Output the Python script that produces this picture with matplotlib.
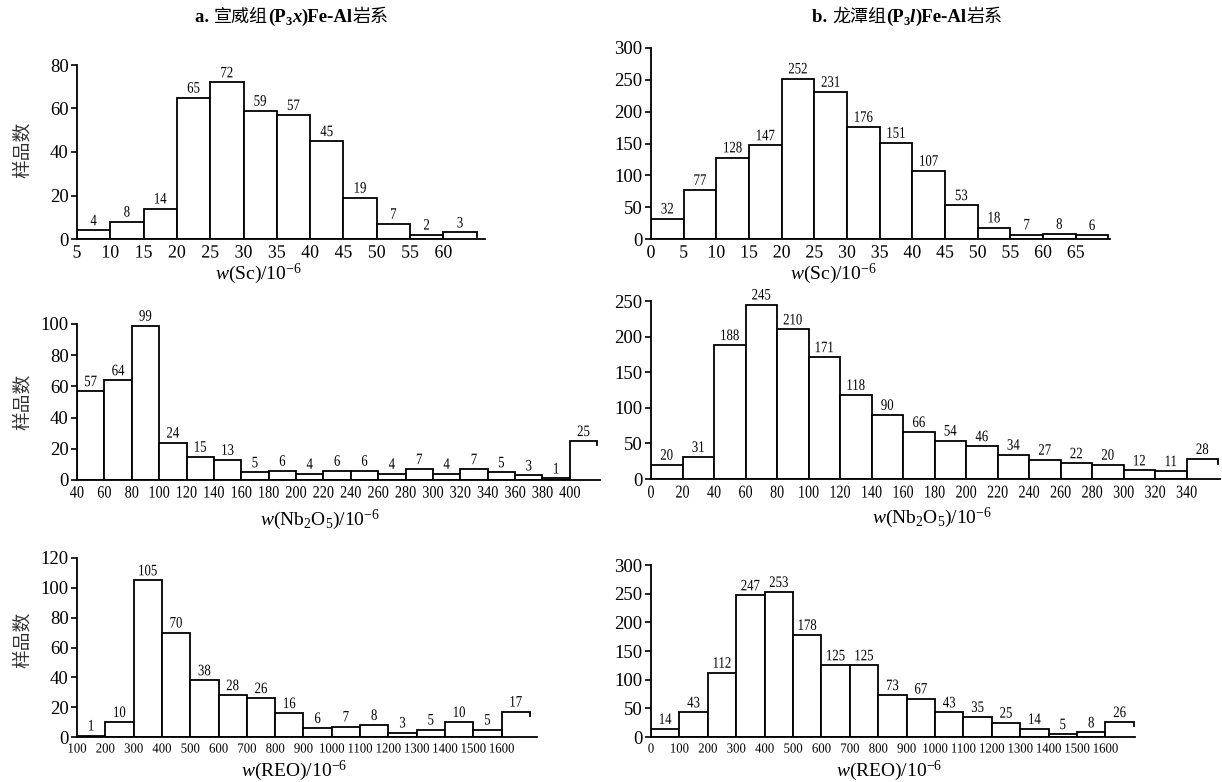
import numpy as np
import matplotlib.pyplot as plt
from matplotlib.patheffects import AbstractPathEffect
from matplotlib.transforms import Affine2D

plt.rcParams['font.family'] = ['Liberation Serif', 'Noto Sans CJK SC']
plt.rcParams['mathtext.fontset'] = 'custom'
plt.rcParams['mathtext.rm'] = 'Liberation Serif'
plt.rcParams['mathtext.it'] = 'Liberation Serif:italic'
plt.rcParams['mathtext.bf'] = 'Liberation Serif:bold'

# --- data (bin counts, bin edge labels) ---
sc_a_edges = [5, 10, 15, 20, 25, 30, 35, 40, 45, 50, 55, 60]
sc_a = [4, 8, 14, 65, 72, 59, 57, 45, 19, 7, 2, 3]

sc_b_edges = [0, 5, 10, 15, 20, 25, 30, 35, 40, 45, 50, 55, 60, 65]
sc_b = [32, 77, 128, 147, 252, 231, 176, 151, 107, 53, 18, 7, 8, 6]

nb_a_edges = [40, 60, 80, 100, 120, 140, 160, 180, 200, 220, 240, 260, 280,
              300, 320, 340, 360, 380, 400]
nb_a = [57, 64, 99, 24, 15, 13, 5, 6, 4, 6, 6, 4, 7, 4, 7, 5, 3, 1, 25]

nb_b_edges = [0, 20, 40, 60, 80, 100, 120, 140, 160, 180, 200, 220, 240, 260,
              280, 300, 320, 340]
nb_b = [20, 31, 188, 245, 210, 171, 118, 90, 66, 54, 46, 34, 27, 22, 20, 12, 11, 28]

reo_a_edges = [100, 200, 300, 400, 500, 600, 700, 800, 900, 1000, 1100, 1200,
               1300, 1400, 1500, 1600]
reo_a = [1, 10, 105, 70, 38, 28, 26, 16, 6, 7, 8, 3, 5, 10, 5, 17]

reo_b_edges = [0, 100, 200, 300, 400, 500, 600, 700, 800, 900, 1000, 1100, 1200,
               1300, 1400, 1500, 1600]
reo_b = [14, 43, 112, 247, 253, 178, 125, 125, 73, 67, 43, 35, 25, 14, 5, 8, 26]

W, H = 1222, 782
fig = plt.figure(figsize=(W / 100, H / 100), dpi=100)


class Squeeze(AbstractPathEffect):
    """narrow the glyphs horizontally (condensed look of the original)"""

    def __init__(self, sx):
        super().__init__()
        self.sx = sx

    def draw_path(self, renderer, gc, tpath, affine, rgbFace=None):
        v = affine.transform(tpath.vertices)
        cx = (np.nanmin(v[:, 0]) + np.nanmax(v[:, 0])) / 2
        a = affine + Affine2D().translate(-cx, 0).scale(self.sx, 1).translate(cx, 0)
        renderer.draw_path(gc, tpath, a, rgbFace)


def px_axes(l, r, t, b):
    return fig.add_axes([l / W, 1 - b / H, (r - l) / W, (b - t) / H])


def hist_panel(ax, counts, edges, ymax, ystep, xmax, xfs, xsq):
    n = len(counts)
    x = np.arange(n)
    # closed bins
    ax.bar(x[:-1], counts[:-1], width=1, align='edge', color='white',
           edgecolor='black', linewidth=1.3, zorder=2)
    # last bin is open on the right side
    h = counts[-1]
    ax.plot([n - 1, n - 1, n, n], [0, h, h, h - ymax * 0.025],
            color='black', lw=1.3, zorder=3, solid_joinstyle='miter')
    for i, c in enumerate(counts):
        ax.text(i + 0.5, c + ymax * 0.006, str(c), ha='center', va='bottom',
                fontsize=11.5, path_effects=[Squeeze(0.8)])
    ax.set_xlim(0, xmax)
    ax.set_ylim(0, ymax)
    ax.set_yticks(np.arange(0, ymax + 1, ystep))
    ax.set_xticks(x)
    ax.set_xticklabels([str(e) for e in edges], fontsize=xfs)
    ax.tick_params(axis='x', length=0, pad=4)
    ax.tick_params(axis='y', length=4, width=1.2, labelsize=13.5, pad=2)
    if xsq < 1:
        for lbl in ax.get_xticklabels():
            lbl.set_path_effects([Squeeze(xsq)])
    for s in ['top', 'right']:
        ax.spines[s].set_visible(False)
    for s in ['left', 'bottom']:
        ax.spines[s].set_linewidth(1.3)
    ax.patch.set_alpha(0)


ax1 = px_axes(77, 485, 65, 239)
hist_panel(ax1, sc_a, sc_a_edges, 80, 20, 12.25, 13.5, 0.95)
ax2 = px_axes(651, 1110, 48, 239)
hist_panel(ax2, sc_b, sc_b_edges, 300, 50, 14.05, 13.5, 0.95)
ax3 = px_axes(77, 600, 324, 480)
hist_panel(ax3, nb_a, nb_a_edges, 100, 20, 19.1, 12.5, 0.82)
ax4 = px_axes(651, 1220, 301, 479)
hist_panel(ax4, nb_b, nb_b_edges, 250, 50, 18.06, 13, 0.78)
ax5 = px_axes(77, 537, 558, 737)
hist_panel(ax5, reo_a, reo_a_edges, 120, 20, 16.25, 10, 0.92)
ax6 = px_axes(651, 1135, 565, 737)
hist_panel(ax6, reo_b, reo_b_edges, 300, 50, 17.04, 10, 0.92)


def ftext(x, y, s, **kw):
    return fig.text(x / W, 1 - y / H, s, **kw)


# x labels
sc_lab = r'$w(\mathrm{Sc})/10^{-6}$'
nb_lab = r'$w(\mathrm{Nb}_2\mathrm{O}_5)/10^{-6}$'
reo_lab = r'$w(\mathrm{REO})/10^{-6}$'
ftext(258, 274, sc_lab, ha='center', va='center', fontsize=14)
ftext(833, 274, sc_lab, ha='center', va='center', fontsize=14)
ftext(320, 520, nb_lab, ha='center', va='center', fontsize=14)
ftext(932, 518, nb_lab, ha='center', va='center', fontsize=14)
ftext(294, 771, reo_lab, ha='center', va='center', fontsize=14)
ftext(889, 771, reo_lab, ha='center', va='center', fontsize=14)

# y labels
for yc in [150, 402, 640]:
    ftext(22, yc, '样品数', ha='center', va='center', rotation=90,
          fontsize=13.5, family='Noto Sans CJK SC', color='#333333')

# titles made of mixed pieces
renderer = fig.canvas.get_renderer()
bold = dict(fontsize=13.5, fontweight='bold', family='Liberation Serif')
boldit = dict(fontsize=13.5, fontweight='bold', fontstyle='italic',
              family='Liberation Serif')
cjk = dict(fontsize=13, family='Noto Sans CJK SC')
sub = dict(fontsize=9, fontweight='bold', family='Liberation Serif')


def rich_title(cx, base_y, pieces):
    items = []
    for s, kw, dy in pieces:
        t = ftext(0, 0, s, ha='left', va='baseline', **kw)
        items.append((t, t.get_window_extent(renderer).width, dy))
    x = cx - sum(w for _, w, _ in items) / 2
    for t, w, dy in items:
        t.set_position((x / W, 1 - (base_y + dy) / H))
        x += w


rich_title(292, 22, [('a. ', bold, 0), ('宣威组', cjk, 0), ('(P', bold, 0),
                     ('3', sub, 3), ('x', boldit, 0), (')Fe-Al', bold, 0),
                     ('岩系', cjk, 0)])
rich_title(907, 22, [('b. ', bold, 0), ('龙潭组', cjk, 0), ('(P', bold, 0),
                     ('3', sub, 3), ('l', boldit, 0), (')Fe-Al', bold, 0),
                     ('岩系', cjk, 0)])

fig.savefig('out.png', dpi=100, facecolor='white')
